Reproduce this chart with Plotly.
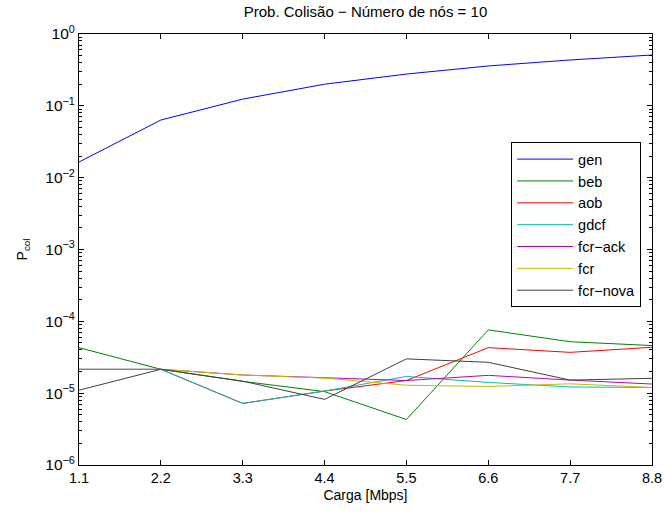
import plotly.graph_objects as go

carga = [1.1, 2.2, 3.3, 4.4, 5.5, 6.6, 7.7, 8.8]
gen = [0.0165, 0.0635, 0.124, 0.20, 0.277, 0.359, 0.435, 0.51]
beb = [4.3e-5, 2.15e-5, 1.46e-5, 1.05e-5, 4.3e-6, 7.6e-5, 5.2e-5, 4.6e-5]
aob = [2.15e-5, 2.15e-5, 7.2e-6, 1.07e-5, 1.5e-5, 4.3e-5, 3.7e-5, 4.35e-5]
gdcf = [2.15e-5, 2.15e-5, 7.2e-6, 1.07e-5, 1.71e-5, 1.41e-5, 1.22e-5, 1.2e-5]
fcr_ack = [None, 2.15e-5, 1.79e-5, 1.64e-5, 1.5e-5, 1.77e-5, 1.52e-5, 1.34e-5]
fcr = [None, 2.15e-5, 1.79e-5, 1.62e-5, 1.29e-5, 1.24e-5, 1.35e-5, 1.2e-5]
fcr_nova = [1.1e-5, 2.15e-5, 1.47e-5, 8.2e-6, 3.0e-5, 2.69e-5, 1.52e-5, 1.61e-5]

series = [
    ("gen", gen, "rgb(0,0,255)"),
    ("beb", beb, "rgb(0,128,0)"),
    ("aob", aob, "rgb(255,0,0)"),
    ("gdcf", gdcf, "rgb(0,191,191)"),
    ("fcr\u2212ack", fcr_ack, "rgb(191,0,191)"),
    ("fcr", fcr, "rgb(191,191,0)"),
    ("fcr\u2212nova", fcr_nova, "rgb(64,64,64)"),
]

ytickvals = [10.0 ** k for k in range(-6, 1)]
yticktext = ["10<sup>%s</sup>" % (str(k).replace("-", "\u2212")) for k in range(-6, 1)]
xticktext = ["%.1f" % v for v in carga]

fig = go.Figure()
for name, vals, col in series:
    fig.add_trace(go.Scatter(x=carga, y=vals, name=name, mode="lines",
                             line=dict(color=col, width=1), connectgaps=False))

font = "Liberation Sans, Arial, Helvetica, sans-serif"
fig.update_layout(
    width=664, height=513,
    margin=dict(l=79, r=12, t=34, b=48),
    paper_bgcolor="white", plot_bgcolor="white",
    font=dict(family=font, size=14, color="black"),
    title=dict(text="Prob. Colisão \u2212 Número de nós = 10", x=0.5, xref="paper",
               xanchor="center", y=1 - 12 / 513, yanchor="middle", font=dict(size=15)),
    showlegend=True,
    legend=dict(x=0.981, y=0.749, xanchor="right", yanchor="top",
                bgcolor="white", bordercolor="black", borderwidth=1,
                font=dict(size=14.5), itemwidth=56, tracegroupgap=0),
    xaxis=dict(range=[1.1, 8.8], tickvals=carga, ticktext=xticktext,
               ticks="inside", ticklen=5, tickcolor="black", mirror="ticks",
               showline=True, linecolor="black", linewidth=1, showgrid=False,
               zeroline=False, automargin=False, tickfont=dict(size=14.5),
               title=dict(text="Carga [Mbps]", font=dict(size=14), standoff=4)),
    yaxis=dict(type="log", range=[-6, 0], tickvals=ytickvals, ticktext=yticktext,
               ticks="inside", ticklen=5, tickcolor="black", mirror="ticks",
               showline=True, linecolor="black", linewidth=1, showgrid=False,
               zeroline=False, automargin=False, tickfont=dict(size=15.5),
               minor=dict(ticks="inside", ticklen=3, tickcolor="black", dtick="D1",
                          showgrid=False),
               title=dict(text="P<sub>col</sub>", font=dict(size=14), standoff=14)),
)

fig.write_html("out.html")
